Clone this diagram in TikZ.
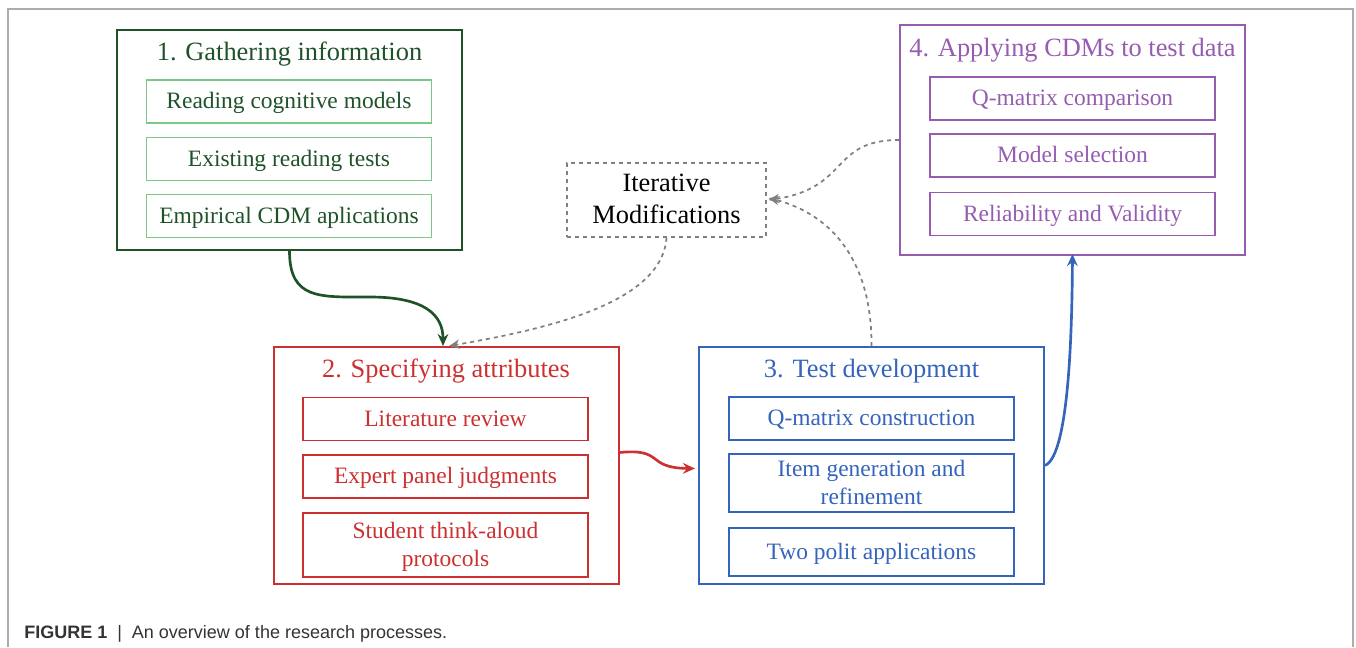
\documentclass[tikz,border=0pt]{standalone}
\usepackage{fontspec}
\setmainfont{Liberation Serif}
\setsansfont{Liberation Sans}
\usetikzlibrary{arrows.meta,calc}

\definecolor{gatherc}{RGB}{32,82,42}
\definecolor{gatherl}{RGB}{125,200,135}
\definecolor{specc}{RGB}{205,48,48}
\definecolor{testc}{RGB}{52,100,188}
\definecolor{applyc}{RGB}{150,92,176}
\definecolor{iterc}{RGB}{128,128,128}
\definecolor{framec}{RGB}{172,172,172}

\begin{document}
\begin{tikzpicture}[x=0.75pt, y=-0.75pt,
	stage/.style={draw, line width=1.5pt, minimum width=258.75pt, inner sep=0pt},
	stagetitle/.style={inner sep=0pt, font=\fontsize{19.8}{24}\selectfont},
	task/.style={draw, line width=1pt, minimum width=213.75pt, minimum height=32.25pt,
		inner xsep=0pt, inner ysep=0pt, align=center, text depth=1pt,
		font=\fontsize{17.6}{21}\selectfont},
	link/.style={line width=2pt, -{Stealth[length=9pt,width=8pt]}},
	back/.style={iterc, dashed, line width=1.3pt, -{Stealth[length=8pt,width=7pt]}}]
	\useasboundingbox (0,0) rectangle (1356,647);
	% frame
	\draw[framec, line width=1.5pt] (8,647) -- (8,9) -- (1353,9) -- (1353,647);

	% 1. gathering
	\node[stage, gatherc, minimum height=165pt] (b1) at (289.5,140) {};
	\node[stagetitle, gatherc] (t1) at (289.5,54) {1. Gathering information};
	\node[task, draw=gatherl, text=gatherc] (g1) at (289,101.5) {Reading cognitive models};
	\node[task, draw=gatherl, text=gatherc] (g2) at (289,159) {Existing reading tests};
	\node[task, draw=gatherl, text=gatherc] (g3) at (289,216) {Empirical CDM aplications};

	% 2. specifying
	\node[stage, specc, minimum height=177.75pt] (b2) at (446,465.5) {};
	\node[stagetitle, specc] (t2) at (446,371) {2. Specifying attributes};
	\node[task, specc] (s1) at (445.5,419) {Literature review};
	\node[task, specc] (s2) at (445.5,476.5) {Expert panel judgments};
	\node[task, specc, minimum height=48pt] (s3) at (445.5,545) {Student think-aloud\\protocols};

	% 3. test development
	\node[stage, testc, minimum height=177.75pt] (b3) at (871.5,465.5) {};
	\node[stagetitle, testc] (t3) at (871.5,371) {3. Test development};
	\node[task, testc] (d1) at (871.5,418.5) {Q-matrix construction};
	\node[task, testc, minimum height=43.5pt] (d2) at (871.5,483) {Item generation and\\refinement};
	\node[task, testc, minimum height=36pt] (d3) at (871.5,552) {Two polit applications};

	% 4. applying
	\node[stage, applyc, minimum height=172.5pt] (b4) at (1072.5,140) {};
	\node[stagetitle, applyc] (t4) at (1072.5,50) {4. Applying CDMs to test data};
	\node[task, applyc] (a1) at (1072.5,98.5) {Q-matrix comparison};
	\node[task, applyc] (a2) at (1072.5,155.5) {Model selection};
	\node[task, applyc] (a3) at (1072.5,214) {Reliability and Validity};

	% iterative
	\node[draw, iterc, dashed, line width=1pt, minimum width=149.25pt, minimum height=55.5pt,
		inner sep=0pt, align=center, text=black, text depth=2pt, font=\fontsize{19.8}{24}\selectfont]
		(it) at (666.5,200) {Iterative\\Modifications};

	% arrows
	\draw[link, gatherc] (b1.south) .. controls (289.5,300) and (320,297) .. (370,297)
		.. controls (425,297) and (443,315) .. ($(b2.north)+(-3,0)$);
	\draw[link, specc] ($(b2.east)+(0,-13)$) .. controls (665,448) and (645,468) .. ($(b3.west)+(-3,3)$);
	\draw[link, testc] (b3.east) .. controls (1070,455) and (1072,320) .. ($(b4.south)+(0,-2)$);
	\draw[back] (it.south) .. controls (662,305) and (540,330) .. ($(b2.north)+(3,0)$);
	\draw[back] (b4.west) .. controls (830,140) and (850,188) .. ($(it.east)+(2,0)$);
	\draw[back] (b3.north) .. controls (872,265) and (835,215) .. ($(it.east)+(2,-2)$);

	% caption
	\node[anchor=base west, inner sep=0pt, font=\sffamily\fontsize{13.5}{16}\selectfont,
		text=black!80] (cap) at (24,638) {\textbf{FIGURE 1} ~|~ An overview of the research processes.};
\end{tikzpicture}
\end{document}
